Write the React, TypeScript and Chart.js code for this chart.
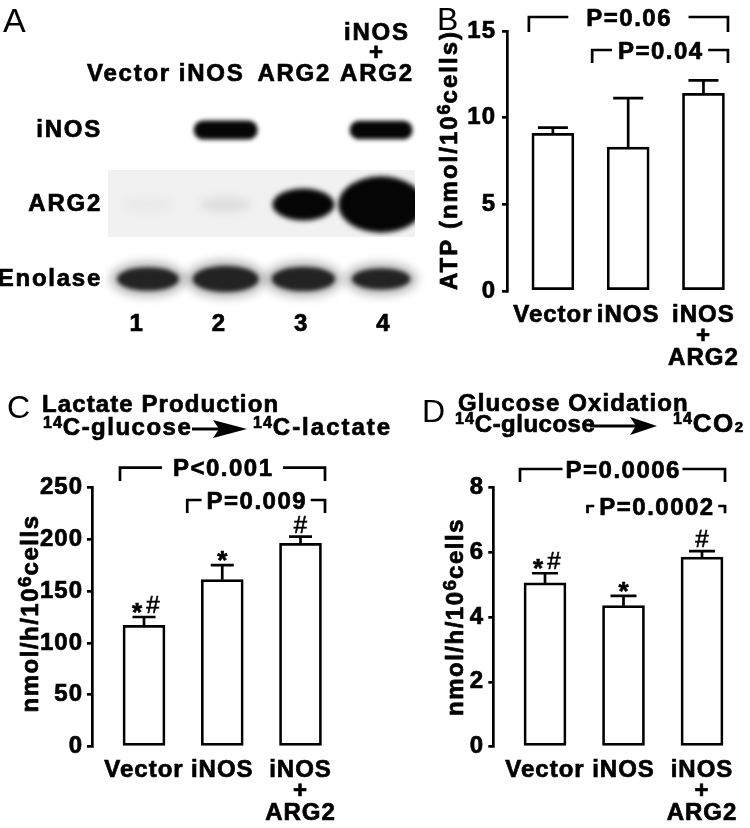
import React, { useEffect, useRef } from 'react';
import { Chart, registerables } from 'chart.js';

Chart.register(...registerables);

const FONT = '"Liberation Sans", Arial, Helvetica, sans-serif';
Chart.defaults.font.family = FONT;
Chart.defaults.color = '#000';

// ---------------- DATA ----------------
const blotLanes = ['Vector', 'iNOS', 'ARG2', 'iNOS + ARG2'];
const blotLaneNumbers = ['1', '2', '3', '4'];
const blotRows = ['iNOS', 'ARG2', 'Enolase'];
const bandsINOS = [0, 1, 0, 0.98];
const bandsARG2 = [0.04, 0.1, 1, 1.5];
const bandsEnolase = [0.92, 1, 0.95, 0.86];

const groups = ['Vector', 'iNOS', 'iNOS + ARG2'];

const atpMean = [9.1, 8.3, 11.4];
const atpSem = [0.32, 2.83, 0.75];
const atpTicks = [0, 5, 10, 15];
const atpMarks = ['', '', ''];
const atpPairs = [[0, 2], [1, 2]];
const atpP = ['P=0.06', 'P=0.04'];

const lacMean = [117, 161, 196];
const lacSem = [8, 14, 6.5];
const lacTicks = [0, 50, 100, 150, 200, 250];
const lacMarks = ['*#', '*', '#'];
const lacPairs = [[0, 2], [1, 2]];
const lacP = ['P<0.001', 'P=0.009'];

const oxMean = [5.05, 4.35, 5.85];
const oxSem = [0.3, 0.3, 0.18];
const oxTicks = [0, 2, 4, 6, 8];
const oxMarks = ['*#', '*', '#'];
const oxPairs = [[0, 2], [1, 2]];
const oxP = ['P=0.0006', 'P=0.0002'];

// ---------------- helpers ----------------
type Part = { t: string; px: number; w?: string; ls?: number; rise?: number };
const STROKE = 0.7;

function drawParts(ctx: any, parts: Part[], x: number, y: number, align: 'left' | 'center', rotate = false) {
  ctx.save();
  ctx.translate(x, y);
  if (rotate) ctx.rotate(-Math.PI / 2);
  ctx.textAlign = 'left';
  ctx.textBaseline = 'alphabetic';
  ctx.fillStyle = '#000';
  ctx.strokeStyle = '#000';
  ctx.lineWidth = STROKE;
  ctx.lineJoin = 'round';
  const widths = parts.map((p) => {
    ctx.font = `${p.w || 'bold'} ${p.px}px ${FONT}`;
    ctx.letterSpacing = `${p.ls || 0}px`;
    return ctx.measureText(p.t).width;
  });
  const total = widths.reduce((a, b) => a + b, 0);
  let cx = align === 'center' ? -total / 2 : 0;
  parts.forEach((p, i) => {
    ctx.font = `${p.w || 'bold'} ${p.px}px ${FONT}`;
    ctx.letterSpacing = `${p.ls || 0}px`;
    if ((p.w || 'bold') === 'bold') ctx.strokeText(p.t, cx, -(p.rise || 0));
    ctx.fillText(p.t, cx, -(p.rise || 0));
    cx += widths[i];
  });
  ctx.restore();
}

function drawArrow(ctx: any, a: any) {
  ctx.save();
  ctx.strokeStyle = '#000';
  ctx.fillStyle = '#000';
  ctx.lineWidth = 3;
  ctx.beginPath();
  ctx.moveTo(a.x0, a.y);
  ctx.lineTo(a.hx + 6, a.y);
  ctx.stroke();
  ctx.beginPath();
  ctx.moveTo(a.hx, a.y - a.hh);
  ctx.lineTo(a.x1, a.y);
  ctx.lineTo(a.hx, a.y + a.hh);
  ctx.lineTo(a.hx + 6, a.y);
  ctx.closePath();
  ctx.fill();
  ctx.restore();
}

// ---------------- panel A (blot) ----------------
const blotBox = { left: 0, top: 0, width: 430, height: 345 };
const blotStyles = [
  { w: 64, h: 19, color: '#060606', blur: 2, shape: 'pill', halo: 0 },
  { w: 62, h: 32, color: '#050505', blur: 2.5, shape: 'ellipse', halo: 0 },
  { w: 66, h: 26, color: '#232323', blur: 2, shape: 'ellipse', halo: 1 },
];

function makeBlotConfig(): any {
  const chartLeft = 108, chartRight = 420, chartTop = 95, chartBottom = 305;
  const row0 = 130, rowStep = 74.5;
  // three horizontal scales: bands, column labels, lane numbers
  const span = (lane1: number, step: number) => ({
    min: 1 - (lane1 - chartLeft) / step,
    max: 1 + (chartRight - lane1) / step,
  });
  const bandX = span(148, 77.7);
  const labelX = span(129, 82.65);
  const numX = span(137, 82.3);
  const ymin = -(row0 - chartTop) / rowStep;
  const ymax = (chartBottom - row0) / rowStep;
  const bandSets = [bandsINOS, bandsARG2, bandsEnolase];
  const laneTicks = (s: any) => {
    s.ticks = blotLanes.map((_, i) => ({ value: i + 1 }));
  };
  const labelFont = { size: 24, weight: 'bold', lineHeight: 0.86 };

  const blotPlugin = {
    id: 'blot',
    beforeDraw(chart: any) {
      chart.ctx.letterSpacing = '1.75px';
    },
    beforeDatasetsDraw(chart: any) {
      const { ctx, chartArea } = chart;
      const x = chart.scales.x, y = chart.scales.y;
      const sx0 = chartArea.left, sx1 = x.getPixelForValue(4.436);
      const sy0 = y.getPixelForValue(1 - 0.463), sy1 = y.getPixelForValue(1 + 0.436);
      ctx.save();
      ctx.fillStyle = '#f1f1f1';
      ctx.fillRect(sx0, sy0, sx1 - sx0, sy1 - sy0);
      chart.data.datasets.forEach((ds: any, r: number) => {
        const st = blotStyles[r];
        chart.getDatasetMeta(r).data.forEach((pt: any, l: number) => {
          const v = ds.data[l].v;
          if (!v) return;
          ctx.save();
          if (r === 1) {
            ctx.beginPath();
            ctx.rect(sx0, sy0, sx1 - sx0, sy1 - sy0);
            ctx.clip();
          }
          const faint = v < 0.3;
          const w = faint ? st.w * 0.85 : st.w * Math.pow(v, 0.8);
          const h = faint ? st.h * 0.5 : st.h * Math.pow(v, 1.4);
          if (st.halo && !faint) {
            ctx.filter = 'blur(5px)';
            ctx.fillStyle = 'rgba(0,0,0,0.28)';
            ctx.beginPath();
            ctx.ellipse(pt.x, pt.y, w / 2 + 7, h / 2 + 6, 0, 0, Math.PI * 2);
            ctx.fill();
          }
          ctx.filter = `blur(${faint ? 4 : st.blur}px)`;
          ctx.fillStyle = faint ? `rgba(0,0,0,${v * 0.7})` : st.color;
          ctx.beginPath();
          if (st.shape === 'pill' && !faint) ctx.roundRect(pt.x - w / 2, pt.y - h / 2, w, h, h / 2);
          else ctx.ellipse(pt.x, pt.y, w / 2, h / 2, 0, 0, Math.PI * 2);
          ctx.fill();
          ctx.restore();
        });
      });
      ctx.restore();
    },
    afterDraw(chart: any) {
      drawParts(chart.ctx, [{ t: 'A', px: 34, w: 'normal' }], 3 - blotBox.left, 32 - blotBox.top, 'left');
    },
  };

  const hidden = { grid: { display: false, drawTicks: false }, border: { display: false } };
  const tickBase = {
    font: labelFont, autoSkip: false, maxRotation: 0, minRotation: 0, color: '#000',
    textStrokeColor: '#000', textStrokeWidth: STROKE,
  };

  return {
    type: 'scatter',
    data: {
      datasets: bandSets.map((arr, r) => ({
        data: arr.map((v, l) => ({ x: l + 1, y: r, v })),
        pointRadius: 0,
        pointHoverRadius: 0,
      })),
    },
    options: {
      animation: false,
      responsive: false,
      events: [],
      layout: { padding: { left: 0, top: 0, right: blotBox.width - chartRight, bottom: 0 } },
      plugins: { legend: { display: false }, tooltip: { enabled: false } },
      scales: {
        x: { type: 'linear', axis: 'x', display: false, min: bandX.min, max: bandX.max },
        xt: {
          type: 'linear', axis: 'x', position: 'top', min: labelX.min, max: labelX.max,
          afterBuildTicks: laneTicks,
          ticks: { ...tickBase, callback: (v: any) => (blotLanes[Math.round(v) - 1] || '').split(' '), padding: 10.5 },
          ...hidden,
          afterFit: (s: any) => { s.height = chartTop; },
        },
        xn: {
          type: 'linear', axis: 'x', position: 'bottom', min: numX.min, max: numX.max,
          afterBuildTicks: laneTicks,
          ticks: { ...tickBase, callback: (v: any) => blotLaneNumbers[Math.round(v) - 1] || '', padding: 8.7 },
          ...hidden,
          afterFit: (s: any) => { s.height = blotBox.height - chartBottom; },
        },
        y: {
          type: 'linear', axis: 'y', position: 'left', reverse: true, min: ymin, max: ymax,
          afterBuildTicks: (s: any) => { s.ticks = blotRows.map((_, i) => ({ value: i })); },
          ticks: { ...tickBase, font: { size: 24, weight: 'bold' }, callback: (v: any) => blotRows[Math.round(v)] || '', padding: 6 },
          ...hidden,
          afterFit: (s: any) => { s.width = chartLeft; },
        },
      },
    },
    plugins: [blotPlugin],
  };
}

// ---------------- bar panels ----------------
const panelB = {
  box: { left: 375, top: 0, width: 375, height: 380 },
  axisX: 507, topPx: 31, bottomPx: 291, firstCenter: 555, spacing: 78.75,
  yMax: 15, ticks: atpTicks, means: atpMean, sems: atpSem, marks: atpMarks,
  pairs: atpPairs, pLabels: atpP,
  brackets: [
    { yOff: -14, drop: 15, gap: 18, lOff: -24, rOff: 24.5 },
    { yOff: 19, drop: 13, gap: 6, lOff: -36, rOff: 24.5 },
  ],
  cap: 30, tickPad: 6, xPad: 13.2,
  yTitle: { parts: [
    { t: 'ATP (nmol/10', px: 24, ls: 2 },
    { t: '6', px: 18, ls: 1, rise: 7 },
    { t: 'cells)', px: 24, ls: 2 },
  ], x: 456.5, y: 160 },
  texts: [{ parts: [{ t: 'B', px: 32, w: 'normal' }], x: 437, y: 30 }],
  arrows: [],
};

const panelC = {
  box: { left: 0, top: 380, width: 400, height: 448 },
  axisX: 92, topPx: 487.3, bottomPx: 746.7, firstCenter: 144, spacing: 78.25,
  yMax: 250, ticks: lacTicks, means: lacMean, sems: lacSem, marks: lacMarks,
  pairs: lacPairs, pLabels: lacP,
  brackets: [
    { yOff: -19.6, drop: 13.3, gap: 11, lOff: -24, rOff: 24.5 },
    { yOff: 12.7, drop: 13, gap: 5, lOff: -35, rOff: 24.5 },
  ],
  cap: 23, tickPad: 4, xPad: 12.5,
  yTitle: { parts: [
    { t: 'nmol/h/10', px: 24, ls: 1.5 },
    { t: '6', px: 19, ls: 1, rise: 7 },
    { t: 'cells', px: 24, ls: 1.5 },
  ], x: 38, y: 613.5 },
  texts: [
    { parts: [{ t: 'C', px: 32, w: 'normal' }], x: 7, y: 418 },
    { parts: [{ t: 'Lactate Production', px: 24, ls: 1.1 }], x: 42, y: 411.7 },
    { parts: [{ t: '14', px: 16, ls: 1, rise: 6.7 }, { t: 'C-glucose', px: 24, ls: 1.5 }], x: 43, y: 435 },
    { parts: [{ t: '14', px: 16, ls: 1, rise: 6.7 }, { t: 'C-lactate', px: 24, ls: 2 }], x: 253, y: 435 },
  ],
  arrows: [{ x0: 192, hx: 213, x1: 247, y: 429, hh: 9 }],
};

const panelD = {
  box: { left: 375, top: 380, width: 375, height: 448 },
  axisX: 493.3, topPx: 487.3, bottomPx: 746.7, firstCenter: 545, spacing: 78.5,
  yMax: 8, ticks: oxTicks, means: oxMean, sems: oxSem, marks: oxMarks,
  pairs: oxPairs, pLabels: oxP,
  brackets: [
    { yOff: -18.3, drop: 13, gap: 3, lOff: -25, rOff: 23 },
    { yOff: 18.7, drop: 7.3, gap: 5, lOff: -36, rOff: 23 },
  ],
  cap: 26, tickPad: 4.3, xPad: 12.5,
  yTitle: { parts: [
    { t: 'nmol/h/10', px: 24, ls: 1.5 },
    { t: '6', px: 19, ls: 1, rise: 7 },
    { t: 'cells', px: 24, ls: 1.5 },
  ], x: 463, y: 617 },
  texts: [
    { parts: [{ t: 'D', px: 32, w: 'normal' }], x: 422, y: 422 },
    { parts: [{ t: 'Glucose Oxidation', px: 24, ls: 1.1 }], x: 458, y: 411 },
    { parts: [{ t: '14', px: 16, ls: 1, rise: 8 }, { t: 'C-glucose', px: 24, ls: 0.5 }], x: 455, y: 432 },
    { parts: [{ t: '14', px: 16, ls: 1, rise: 8 }, { t: 'CO', px: 26, ls: 1.5 }, { t: '2', px: 15, rise: 0 }], x: 673, y: 432 },
  ],
  arrows: [{ x0: 590, hx: 630, x1: 657, y: 426, hh: 9 }],
};

function annPlugin(P: any) {
  const ox = P.box.left, oy = P.box.top;
  return {
    id: 'ann',
    beforeDraw(chart: any) {
      chart.ctx.letterSpacing = '1px';
    },
    afterDatasetsDraw(chart: any) {
      const { ctx } = chart;
      const y = chart.scales.y;
      const meta = chart.getDatasetMeta(0);
      ctx.save();
      ctx.strokeStyle = '#000';
      ctx.fillStyle = '#000';
      ctx.lineWidth = 2.7;
      ctx.lineCap = 'butt';
      P.means.forEach((m: number, i: number) => {
        const el: any = meta.data[i];
        const yt = y.getPixelForValue(m + P.sems[i]);
        ctx.beginPath();
        ctx.moveTo(el.x, el.y);
        ctx.lineTo(el.x, yt);
        ctx.moveTo(el.x - P.cap / 2, yt);
        ctx.lineTo(el.x + P.cap / 2, yt);
        ctx.stroke();
        const mk = P.marks[i];
        if (mk) {
          const chars = mk.split('');
          const offs = chars.length > 1 ? [-7, 9] : [0];
          chars.forEach((ch: string, k: number) => {
            ctx.font = ch === '*' ? `bold 26px ${FONT}` : `normal 24px ${FONT}`;
            ctx.letterSpacing = '0px';
            ctx.textAlign = 'center';
            ctx.textBaseline = 'alphabetic';
            ctx.lineWidth = 0.6;
            const mt = ctx.measureText(ch);
            const yy = yt - 4 - mt.actualBoundingBoxDescent;
            ctx.strokeText(ch, el.x + offs[k], yy);
            ctx.fillText(ch, el.x + offs[k], yy);
          });
          ctx.lineWidth = 2.7;
        }
      });
      ctx.restore();
    },
    afterDraw(chart: any) {
      const { ctx, chartArea } = chart;
      const meta = chart.getDatasetMeta(0);
      ctx.save();
      ctx.strokeStyle = '#000';
      ctx.fillStyle = '#000';
      ctx.lineCap = 'butt';
      ctx.lineJoin = 'miter';
      P.pairs.forEach((pair: number[], k: number) => {
        const L = P.brackets[k];
        const label = P.pLabels[k];
        const xa = meta.data[pair[0]].x + L.lOff;
        const xb = meta.data[pair[1]].x + L.rOff;
        const yl = chartArea.top + L.yOff;
        ctx.font = `bold 24px ${FONT}`;
        ctx.letterSpacing = '1.5px';
        const tw = ctx.measureText(label).width - 1.5;
        const xc = (xa + xb) / 2;
        ctx.lineWidth = 2.7;
        ctx.beginPath();
        ctx.moveTo(xa, yl + L.drop);
        ctx.lineTo(xa, yl);
        ctx.lineTo(xc - tw / 2 - L.gap, yl);
        ctx.moveTo(xc + tw / 2 + L.gap, yl);
        ctx.lineTo(xb, yl);
        ctx.lineTo(xb, yl + L.drop);
        ctx.stroke();
        ctx.textAlign = 'center';
        ctx.textBaseline = 'alphabetic';
        ctx.lineWidth = STROKE;
        ctx.lineJoin = 'round';
        ctx.strokeText(label, xc + 0.75, yl + 8.6);
        ctx.fillText(label, xc + 0.75, yl + 8.6);
        ctx.lineJoin = 'miter';
      });
      ctx.restore();
      drawParts(ctx, P.yTitle.parts, P.yTitle.x - ox, P.yTitle.y - oy, 'center', true);
      P.texts.forEach((t: any) => drawParts(ctx, t.parts, t.x - ox, t.y - oy, 'left'));
      P.arrows.forEach((a: any) =>
        drawArrow(ctx, { x0: a.x0 - ox, hx: a.hx - ox, x1: a.x1 - ox, y: a.y - oy, hh: a.hh })
      );
    },
  };
}

function makeBarConfig(P: any): any {
  const b = P.box;
  const chartLeft = P.axisX - b.left;
  const top = P.topPx - b.top;
  const bottom = P.bottomPx - b.top;
  const c0 = P.firstCenter - b.left;
  const xmin = -(c0 - chartLeft) / P.spacing;
  const xmax = (b.width - c0) / P.spacing;
  return {
    type: 'bar',
    data: {
      datasets: [{
        data: P.means.map((m: number, i: number) => ({ x: i, y: m })),
        backgroundColor: '#fff',
        borderColor: '#000',
        borderWidth: 2.7,
        borderSkipped: false,
        barThickness: 42,
      }],
    },
    options: {
      animation: false,
      responsive: false,
      events: [],
      layout: { padding: { top, left: 0, right: 0, bottom: 0 } },
      plugins: { legend: { display: false }, tooltip: { enabled: false } },
      scales: {
        x: {
          type: 'linear', min: xmin, max: xmax, offset: false,
          afterBuildTicks: (s: any) => { s.ticks = groups.map((_, i) => ({ value: i })); },
          ticks: {
            callback: (v: any) => (groups[Math.round(v)] || '').split(' '),
            font: { size: 24, weight: 'bold', lineHeight: 0.9 },
            padding: P.xPad, autoSkip: false, maxRotation: 0, minRotation: 0, color: '#000',
            textStrokeColor: '#000', textStrokeWidth: STROKE,
          },
          grid: { display: false, drawTicks: false },
          border: { display: false },
          afterFit: (s: any) => { s.height = b.height - bottom; },
        },
        y: {
          type: 'linear', min: 0, max: P.yMax,
          afterBuildTicks: (s: any) => { s.ticks = P.ticks.map((v: number) => ({ value: v })); },
          ticks: {
            font: { size: 24, weight: 'bold' }, padding: P.tickPad, color: '#000',
            textStrokeColor: '#000', textStrokeWidth: STROKE,
          },
          grid: { drawOnChartArea: false, drawTicks: true, tickLength: 5, color: '#000', lineWidth: 2.7 },
          border: { display: true, color: '#000', width: 2.7 },
          afterFit: (s: any) => { s.width = chartLeft; },
        },
      },
    },
    plugins: [annPlugin(P)],
  };
}

function ChartCanvas({ box, make }: { box: any; make: () => any }) {
  const ref = useRef<HTMLCanvasElement>(null);
  useEffect(() => {
    const chart = new Chart(ref.current as HTMLCanvasElement, make());
    return () => chart.destroy();
  }, []);
  return (
    <canvas
      ref={ref}
      width={box.width}
      height={box.height}
      style={{ position: 'absolute', left: box.left, top: box.top, width: box.width, height: box.height }}
    />
  );
}

export default function App() {
  return (
    <div style={{ position: 'absolute', left: 0, top: 0, width: 750, height: 828, background: '#fff', overflow: 'hidden' }}>
      <ChartCanvas box={blotBox} make={makeBlotConfig} />
      <ChartCanvas box={panelB.box} make={() => makeBarConfig(panelB)} />
      <ChartCanvas box={panelC.box} make={() => makeBarConfig(panelC)} />
      <ChartCanvas box={panelD.box} make={() => makeBarConfig(panelD)} />
    </div>
  );
}
